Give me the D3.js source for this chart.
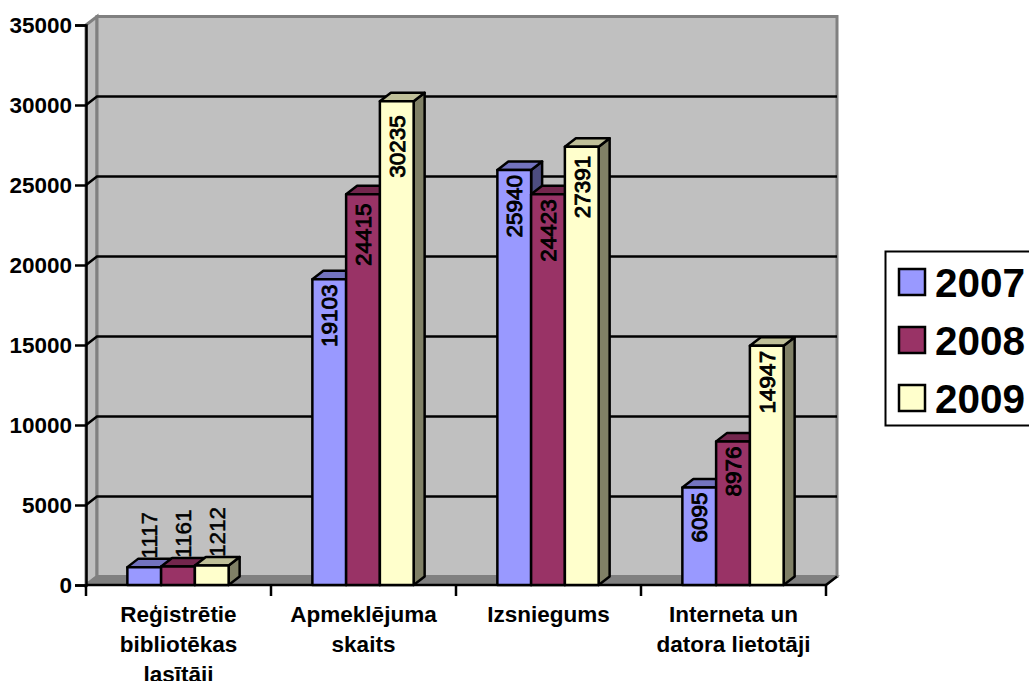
<!DOCTYPE html>
<html lang="lv">
<head>
    <meta charset="UTF-8">
    <title>Bibliotēkas rādītāji</title>
    <script src="https://d3js.org/d3.v7.min.js"></script>
    <style>
        body { margin: 0; overflow: hidden; background: #fff; }
        text { font-family: "Liberation Sans", Arial, sans-serif; fill: #000; }
    </style>
</head>
<body>
    <script>
        const categories = ["Reģistrētie bibliotēkas lasītāji", "Apmeklējuma skaits", "Izsniegums", "Interneta un datora lietotāji"];
        const categoryLines = [["Reģistrētie", "bibliotēkas", "lasītāji"], ["Apmeklējuma", "skaits"], ["Izsniegums"], ["Interneta un", "datora lietotāji"]];
        const years = ["2007", "2008", "2009"];
        const values2007 = [1117, 19103, 25940, 6095];
        const values2008 = [1161, 24415, 24423, 8976];
        const values2009 = [1212, 30235, 27391, 14947];
        const yTicks = [0, 5000, 10000, 15000, 20000, 25000, 30000, 35000];

        const seriesValues = [values2007, values2008, values2009];
        const front = ["#9999ff", "#993366", "#ffffcc"];
        const topFace = ["#7373bf", "#73264d", "#bfbf99"];
        const sideFace = ["#4d4d80", "#4d1933", "#808066"];

        const width = 1029, height = 681;
        const dx = 11, dy = 8.5; // 3D depth
        const x0 = 86, x1 = 826, y0 = 585, y1 = 25;

        const svg = d3.select("body").append("svg")
            .attr("width", width).attr("height", height)
            .style("display", "block");

        const x = d3.scaleBand().domain(categories).range([x0, x1]);
        const xs = d3.scaleBand().domain(years).range([-0.5, x.bandwidth() - 0.5])
            .paddingInner(0).paddingOuter(1.24);
        const y = d3.scaleLinear().domain([0, 35000]).range([y0, y1]);

        const poly = pts => pts.map(p => p.join(",")).join(" ");

        // walls
        svg.append("polygon")
            .attr("points", poly([[x0, y1], [x0 + dx, y1 - dy], [x0 + dx, y0 - dy], [x0, y0]]))
            .attr("fill", "#c0c0c0").attr("stroke", "#808080").attr("stroke-width", 3);
        svg.append("rect")
            .attr("x", x0 + dx).attr("y", y1 - dy)
            .attr("width", x1 - x0).attr("height", y0 - y1)
            .attr("fill", "#c0c0c0").attr("stroke", "#808080").attr("stroke-width", 3);
        svg.append("polygon")
            .attr("points", poly([[x0, y0], [x0 + dx, y0 - dy], [x1 + dx, y0 - dy], [x1, y0]]))
            .attr("fill", "#808080").attr("stroke", "#808080").attr("stroke-width", 2);

        // gridlines
        const grid = svg.append("g").attr("stroke", "#000").attr("stroke-width", 2.5).attr("fill", "none");
        yTicks.filter(t => t > 0 && t < 35000).forEach(t => {
            grid.append("polyline")
                .attr("points", poly([[x0, y(t)], [x0 + dx, y(t) - dy], [x1 + dx, y(t) - dy]]));
        });

        // axes
        const yAxis = svg.append("g")
            .attr("transform", `translate(${x0},0)`)
            .call(d3.axisLeft(y).tickValues(yTicks).tickFormat(d3.format("d")).tickSize(11).tickPadding(3));
        yAxis.selectAll("line").attr("stroke", "#000").attr("stroke-width", 2.5);
        yAxis.select(".domain").attr("stroke", "#000").attr("stroke-width", 2.5);
        yAxis.selectAll("text")
            .attr("font-size", 22.5).attr("font-weight", "bold")
            .style("font-family", '"Liberation Sans", Arial, sans-serif').style("fill", "#000");

        const xAxis = svg.append("g").attr("stroke", "#000").attr("stroke-width", 2.5);
        xAxis.append("line").attr("x1", x0).attr("x2", x1).attr("y1", y0).attr("y2", y0);
        xAxis.append("line").attr("x1", x1).attr("x2", x1 + dx).attr("y1", y0).attr("y2", y0 - dy);
        categories.map(c => x(c)).concat([x1]).forEach(px => {
            xAxis.append("line").attr("x1", px).attr("x2", px).attr("y1", y0).attr("y2", y0 + 11);
        });

        categoryLines.forEach((lines, i) => {
            const t = svg.append("text")
                .attr("text-anchor", "middle")
                .attr("font-size", 22.5).attr("font-weight", "bold");
            lines.forEach((line, j) => {
                t.append("tspan")
                    .attr("x", x(categories[i]) + x.bandwidth() / 2)
                    .attr("y", 622 + j * 30)
                    .text(line);
            });
        });

        // bars, series by series so later faces overlap earlier sides
        const bars = svg.append("g").attr("stroke", "#000").attr("stroke-width", 2.5).attr("stroke-linejoin", "round");
        years.forEach((yr, s) => {
            categories.forEach((c, i) => {
                const v = seriesValues[s][i];
                const l = x(c) + xs(yr), r = l + xs.bandwidth(), t = y(v);
                bars.append("polygon").attr("fill", sideFace[s])
                    .attr("points", poly([[r, t], [r + dx, t - dy], [r + dx, y0 - dy], [r, y0]]));
                bars.append("polygon").attr("fill", topFace[s])
                    .attr("points", poly([[l, t], [l + dx, t - dy], [r + dx, t - dy], [r, t]]));
                bars.append("rect").attr("fill", front[s])
                    .attr("x", l).attr("y", t).attr("width", r - l).attr("height", y0 - t);
            });
        });

        // value labels, rotated; short bars carry theirs above the bar
        const labelGap = 5;
        const labelNudge = { 30235: 9, 27391: 4, 24415: 4 };
        years.forEach((yr, s) => {
            categories.forEach((c, i) => {
                const v = seriesValues[s][i];
                const cx = x(c) + xs(yr) + xs.bandwidth() / 2;
                const above = v < 2000;
                const px = above ? cx + 5 : cx;
                const py = above ? y(v) - dy : y(v) + labelGap + (labelNudge[v] || 0);
                svg.append("text")
                    .attr("transform", `translate(${px},${py}) rotate(-90)`)
                    .attr("text-anchor", above ? "start" : "end")
                    .attr("dy", "0.36em")
                    .attr("font-size", 22.5)
                    .attr("stroke", "#000").attr("stroke-width", above ? 0.5 : 0.9)
                    .text(v);
            });
        });

        // legend
        const legend = svg.append("g");
        legend.append("rect")
            .attr("x", 885.5).attr("y", 251.5).attr("width", 160).attr("height", 174)
            .attr("fill", "#fff").attr("stroke", "#000").attr("stroke-width", 2);
        years.forEach((yr, s) => {
            const ly = 269 + s * 58;
            legend.append("rect")
                .attr("x", 899).attr("y", ly).attr("width", 26).attr("height", 26)
                .attr("fill", front[s]).attr("stroke", "#000").attr("stroke-width", 2.5);
            legend.append("text")
                .attr("x", 935).attr("y", ly + 28)
                .attr("font-size", 40.5).attr("font-weight", "bold")
                .text(yr);
        });
    </script>
</body>
</html>
